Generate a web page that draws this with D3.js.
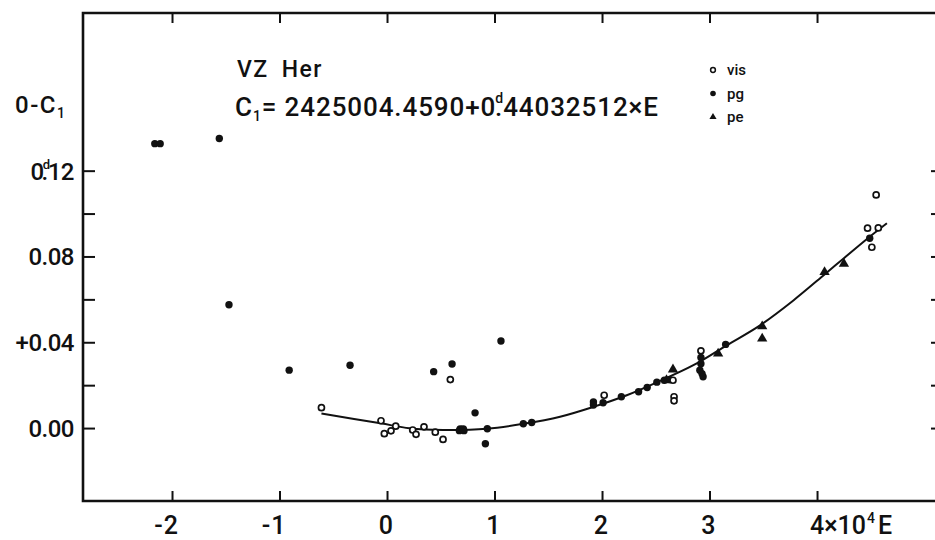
<!DOCTYPE html>
<html>
<head>
<meta charset="utf-8">
<script src="https://cdn.jsdelivr.net/npm/d3@7"></script>
<style>
  body { margin: 0; background: #fff; }
  text { font-family: Roboto, "Liberation Sans", sans-serif; font-weight: 500; fill: #111; }
</style>
</head>
<body>
<div class="canvas"></div>
<script>
// O-C diagram of VZ Her (E in units of 10^4 cycles, O-C in days)

const xTicks = [-2, -1, 0, 1, 2, 3, 4];
const xTickLabels = ['-2', '-1', '0', '1', '2', '3', '4'];
const yTicks = [0, 0.02, 0.04, 0.06, 0.08, 0.10, 0.12];
const yLabelTicks = [0, 0.04, 0.08, 0.12];
const yTickLabels = ['0.00', '+0.04', '0.08', '0.12'];

const visData = [
  [-0.61, 0.0095], [-0.056, 0.0034], [-0.025, -0.0026], [0.037, -0.0013], [0.081, 0.0009],
  [0.239, -0.0009], [0.27, -0.0029], [0.344, 0.0006], [0.449, -0.0019], [0.521, -0.0053],
  [0.589, 0.0226], [2.02, 0.0153], [2.66, 0.0223], [2.67, 0.0146], [2.67, 0.0127],
  [2.92, 0.036], [4.55, 0.1087], [4.47, 0.0932], [4.57, 0.0933], [4.51, 0.0843]
];

const pgData = [
  [-2.16, 0.1326], [-2.11, 0.1326], [-1.56, 0.135], [-1.47, 0.0575], [-0.91, 0.027],
  [-0.344, 0.0293], [0.434, 0.0263], [0.605, 0.0299], [0.819, 0.0071], [1.06, 0.0406],
  [0.673, -0.0012], [0.695, -0.0006], [0.716, -0.0012], [0.68, -0.0004], [0.71, -0.0004],
  [0.933, -0.0003], [0.915, -0.0073], [1.268, 0.002], [1.346, 0.0026],
  [1.92, 0.0122], [1.92, 0.0107], [2.01, 0.0118], [2.18, 0.0146], [2.34, 0.0169],
  [2.42, 0.0189], [2.51, 0.0214], [2.58, 0.0223], [2.63, 0.0226],
  [2.92, 0.0329], [2.92, 0.030], [2.91, 0.027], [2.93, 0.0254], [2.94, 0.0239],
  [3.15, 0.039], [4.49, 0.0885]
];

const peData = [
  [2.60, 0.0223], [2.66, 0.0273], [3.08, 0.0347], [3.49, 0.0474], [3.49, 0.0417],
  [4.07, 0.0727], [4.25, 0.0766]
];

// fitted curve
const fitCurve = [
  [-0.61, 0.0068], [-0.06, 0.0022], [0.21, -0.0001], [0.52, -0.0009], [0.93, -0.0003],
  [1.27, 0.002], [1.61, 0.0053], [1.92, 0.0099], [2.23, 0.0153], [2.54, 0.022],
  [2.85, 0.0293], [3.16, 0.0386], [3.47, 0.0479], [3.78, 0.0595], [4.07, 0.0716],
  [4.25, 0.0792], [4.49, 0.0892], [4.65, 0.0955]
];

const legendItems = ['vis', 'pg', 'pe'];

const width = 935, height = 540;
const frame = {left: 83, right: 937, top: 13, bottom: 501};

const svg = d3.select('.canvas')
  .append('svg')
    .attr('width', width)
    .attr('height', height);

const x = d3.scaleLinear().domain([-2.828, 5.116]).range([frame.left, frame.right]);
const y = d3.scaleLinear().domain([-0.034, 0.1935]).range([frame.bottom, frame.top]);

// axes (ticks point inwards)
const styleAxis = g => {
  g.select('.domain').remove();
  g.selectAll('.tick line').attr('stroke', '#111').attr('stroke-width', 2);
  g.selectAll('.tick text').remove();
};

svg.append('g')
  .attr('transform', `translate(0,${frame.bottom})`)
  .call(d3.axisTop(x).tickValues(xTicks).tickSize(10).tickFormat(''))
  .call(styleAxis);

svg.append('g')
  .attr('transform', `translate(0,${frame.top})`)
  .call(d3.axisBottom(x).tickValues(xTicks).tickSize(10).tickFormat(''))
  .call(styleAxis);

svg.append('g')
  .attr('transform', `translate(${frame.left},0)`)
  .call(d3.axisRight(y).tickValues(yTicks).tickSize(12).tickFormat(''))
  .call(styleAxis);

svg.append('g')
  .attr('transform', `translate(${frame.right},0)`)
  .call(d3.axisLeft(y).tickValues(yTicks).tickSize(6).tickFormat(''))
  .call(styleAxis);

// frame
svg.append('path')
  .attr('d', `M${frame.right},${frame.top}H${frame.left}V${frame.bottom}H${frame.right}`)
  .attr('fill', 'none')
  .attr('stroke', '#111')
  .attr('stroke-width', 2.6);

// x tick labels, digit centred on the tick, minus hanging left
svg.append('g').selectAll('text')
  .data(xTicks.slice(0, 6))
  .join('text')
    .attr('x', d => x(d) + 7)
    .attr('y', 534)
    .attr('text-anchor', 'end')
    .attr('font-size', 25)
    .attr('letter-spacing', 1)
    .text((d, i) => xTickLabels[i]);

const lastLab = svg.append('text')
  .attr('x', x(4) - 7)
  .attr('y', 534)
  .attr('font-size', 25);
lastLab.append('tspan').text(xTickLabels[6] + '\u00d710');
lastLab.append('tspan').attr('font-size', 14).attr('dy', -11).attr('dx', 1).text('4');
lastLab.append('tspan').attr('dy', 11).attr('dx', 3).text('E');

// y tick labels
yLabelTicks.forEach((v, i) => {
  const t = svg.append('text')
    .attr('x', 74)
    .attr('y', y(v) + 9)
    .attr('text-anchor', 'end')
    .attr('font-size', 24)
    .attr('letter-spacing', -0.5);
  const lab = yTickLabels[i];
  if (v === 0.12) {
    t.append('tspan').text('0');
    t.append('tspan').attr('font-size', 13).attr('dy', -11).attr('dx', -1).text('d');
    t.append('tspan').attr('dy', 11).attr('dx', -8).text(lab.slice(1));
  } else {
    t.text(lab);
  }
});

// y axis title
const yTitle = svg.append('text')
  .attr('x', 15)
  .attr('y', 113)
  .attr('font-size', 24)
  .attr('letter-spacing', 1.5);
yTitle.append('tspan').text('0-C');
yTitle.append('tspan').attr('font-size', 14).attr('dy', 5).text('1');

// star name and ephemeris
svg.append('text')
  .attr('x', 237)
  .attr('y', 77)
  .attr('font-size', 23)
  .attr('letter-spacing', 1.5)
  .text('VZ')
  .append('tspan').attr('dx', 13).text('Her');

const eq = svg.append('text')
  .attr('x', 235)
  .attr('y', 116)
  .attr('font-size', 26)
  .attr('letter-spacing', 0.9);
eq.append('tspan').text('C');
eq.append('tspan').attr('font-size', 14).attr('dy', 5).text('1');
eq.append('tspan').attr('dy', -5).text('= 2425004.4590+0');
eq.append('tspan').attr('font-size', 14).attr('dy', -13).attr('dx', -1).text('d');
eq.append('tspan').attr('dy', 13).attr('dx', -9).text('.44032512\u00d7E');

// fitted curve
svg.append('path')
  .datum(fitCurve)
  .attr('fill', 'none')
  .attr('stroke', '#111')
  .attr('stroke-width', 2)
  .attr('d', d3.line().x(d => x(d[0])).y(d => y(d[1])).curve(d3.curveCatmullRom));

// observations
const tri = d3.symbol().type(d3.symbolTriangle);

svg.append('g').selectAll('path')
  .data(peData)
  .join('path')
    .attr('transform', d => `translate(${x(d[0])},${y(d[1])})`)
    .attr('d', tri.size(46))
    .attr('fill', '#111');

svg.append('g').selectAll('circle')
  .data(pgData)
  .join('circle')
    .attr('cx', d => x(d[0]))
    .attr('cy', d => y(d[1]))
    .attr('r', 3.7)
    .attr('fill', '#111');

svg.append('g').selectAll('circle')
  .data(visData)
  .join('circle')
    .attr('cx', d => x(d[0]))
    .attr('cy', d => y(d[1]))
    .attr('r', 3)
    .attr('fill', '#fff')
    .attr('stroke', '#111')
    .attr('stroke-width', 1.7);

// legend
const legend = svg.append('g').attr('transform', 'translate(713,70)');
legendItems.forEach((name, i) => {
  const row = legend.append('g').attr('transform', `translate(0,${i * 23.5})`);
  if (name === 'vis') {
    row.append('circle').attr('r', 2.4).attr('fill', '#fff').attr('stroke', '#111').attr('stroke-width', 1.5);
  } else if (name === 'pg') {
    row.append('circle').attr('r', 2.8).attr('fill', '#111');
  } else {
    row.append('path').attr('d', d3.symbol().type(d3.symbolTriangle).size(22)()).attr('fill', '#111');
  }
  row.append('text')
    .attr('x', 14)
    .attr('y', 5)
    .attr('font-size', 15)
    .attr('font-weight', 'bold')
    .text(name);
});
</script>
</body>
</html>
